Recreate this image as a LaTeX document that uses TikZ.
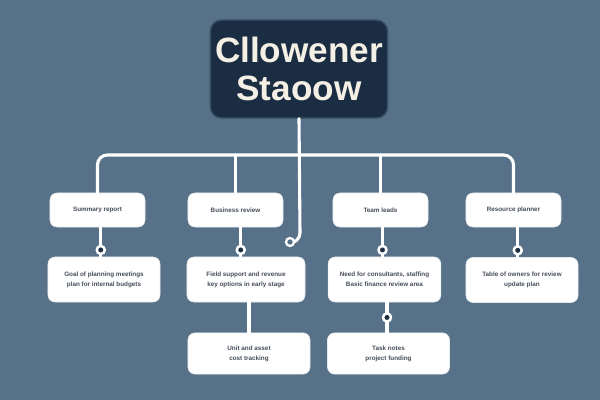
\documentclass[tikz,border=0pt]{standalone}
\usepackage{fontspec}
\setmainfont{Liberation Sans}
\usepackage{xcolor}
\usetikzlibrary{calc}

\definecolor{slate}{RGB}{86,113,136}
\definecolor{navy}{RGB}{27,45,66}
\definecolor{navyrim}{RGB}{58,80,102}
\definecolor{inkgray}{RGB}{70,78,88}

\begin{document}
\begin{tikzpicture}[x=0.025cm, y=-0.025cm, line cap=round, line join=round,
		link/.style={white, line width=2.2pt},
		card/.style={rectangle, rounded corners=5pt, fill=white, draw=white!85!slate,
			inner sep=1pt, align=center, text=inkgray,
			font=\fontsize{4.5}{7}\selectfont\bfseries},
		knob/.style={circle, fill=navy, draw=white, line width=1.8pt,
			minimum size=0.2cm, inner sep=0pt}]
	
	%====================
	% 1) canvas
	%====================
	\fill[slate] (0,0) rectangle (600,400);
	\useasboundingbox (0,0) rectangle (600,400);
	
	%====================
	% 2) head box
	%====================
	\node[rectangle, rounded corners=8pt, fill=navy, draw=navyrim, line width=1pt,
		minimum width=4.4cm, minimum height=2.45cm, align=center,
		text={rgb,255:red,245;green,240;blue,230},
		font=\fontsize{25}{27}\selectfont\bfseries] (head) at (299,69)
		{Cllowener\\Staoow};
	
	%====================
	% 3) first row of cards
	%====================
	\def\wA{2.375cm} % card size, row 1
	\def\hA{0.85cm}
	\node[card, minimum width=\wA, minimum height=\hA] (Aone)   at (97.5,210)  {Summary report};
	\node[card, minimum width=\wA, minimum height=\hA] (Atwo)   at (235.5,210) {Business review};
	\node[card, minimum width=\wA, minimum height=\hA] (Athree) at (380.5,210) {Team leads};
	\node[card, minimum width=\wA, minimum height=\hA] (Afour)  at (513.5,210) {Resource planner};
	
	%====================
	% 4) second row of cards
	%====================
	\def\hB{1.125cm}
	\node[card, minimum width=2.8cm,  minimum height=\hB] (Bone)   at (104,279.5)
		{Goal of planning meetings\\plan for internal budgets};
	\node[card, minimum width=2.95cm, minimum height=\hB] (Btwo)   at (246,279.5)
		{Field support and revenue\\key options in early stage};
	\node[card, minimum width=2.82cm, minimum height=\hB] (Bthree) at (384.5,279.5)
		{Need for consultants, staffing\\Basic finance review area};
	\node[card, minimum width=2.8cm,  minimum height=\hB] (Bfour)  at (522,280)
		{Table of owners for review\\update plan};
	
	%====================
	% 5) third row of cards
	%====================
	\def\wC{3.05cm}
	\def\hC{1.03cm}
	\node[card, minimum width=\wC, minimum height=\hC] (Cone) at (249,353.5)
		{Unit and asset\\cost tracking};
	\node[card, minimum width=\wC, minimum height=\hC] (Ctwo) at (388.5,353.5)
		{Task notes\\project funding};
	
	%====================
	% 6) bus from the head box to row 1
	%====================
	\coordinate (bus) at (300,155);
	\draw[link, rounded corners=7pt] (Aone.north) |- (Afour.north |- bus) -- (Afour.north);
	\draw[link, rounded corners=4pt] (Atwo.north |- bus) -- (Atwo.north);
	\draw[link, rounded corners=4pt] (Athree.north |- bus) -- (Athree.north);
	
	% trunk, ending in a small hook
	\coordinate (hook) at (300,233);
	\coordinate (ring) at (290,242);
	\draw[link] (head.south) -- (hook) to[out=-90, in=-20] (ring);
	\node[circle, fill=slate, draw=white, line width=1.6pt, minimum size=0.2cm,
		inner sep=0pt] (ringdot) at (ring) {};
	
	%====================
	% 7) row 1 -> row 2, with knobs
	%====================
	\foreach \up/\dn in {Aone/Bone, Atwo/Btwo, Athree/Bthree, Afour/Bfour}{
		\coordinate (t\up) at ($(\up.south)!.5!(\up.south -| \dn.north)$);
		\draw[link] (t\up) -- (t\up |- \dn.north) node[knob, pos=.77] {};
	}
	
	%====================
	% 8) row 2 -> row 3
	%====================
	\draw[link] (Cone.north |- Btwo.south) -- (Cone.north);
	\draw[link] ($(Ctwo.north |- Bthree.south)+(-1.5,0)$) -- ($(Ctwo.north)+(-1.5,0)$)
		node[knob, pos=.5] {};
	
\end{tikzpicture}
\end{document}
